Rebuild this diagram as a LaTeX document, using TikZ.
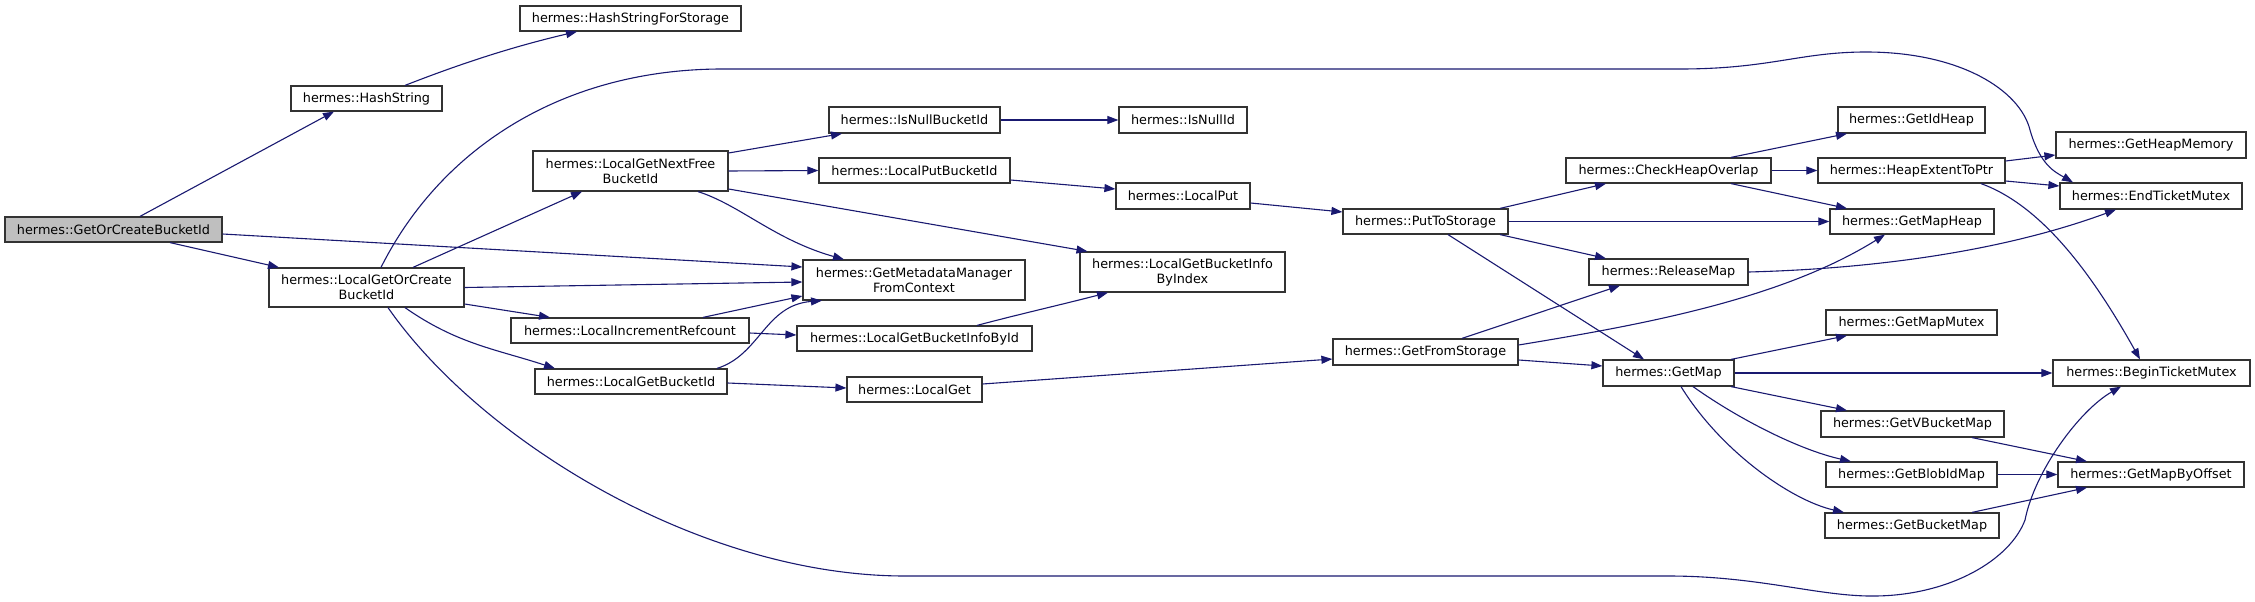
\documentclass[tikz,border=0pt]{standalone}
\usepackage{fontspec}
\setmainfont{DejaVu Sans}
\usetikzlibrary{arrows.meta}
\definecolor{edgeblue}{HTML}{191970}
\definecolor{rootgray}{HTML}{BFBFBF}
\begin{document}
\begin{tikzpicture}[x=1pt,y=-1pt,
  fn/.style={draw=black!80, line width=1.2pt, fill=white, inner sep=0pt, align=center,
    font=\fontsize{12.8}{15}\selectfont},
  rootfn/.style={fn, fill=rootgray},
  calls/.style={draw=edgeblue, line width=1.1pt, -{Triangle[length=11pt,width=8pt]}},
]
\useasboundingbox (0,0) rectangle (2255,602);
% nodes
\node[rootfn, minimum width=217pt, minimum height=25pt] (goc) at (113.5,229.5) {hermes::GetOrCreateBucketId};
\node[fn, minimum width=151pt, minimum height=25pt] (hs) at (366.5,98.5) {hermes::HashString};
\node[fn, minimum width=221pt, minimum height=25pt] (hsfs) at (630.5,18.5) {hermes::HashStringForStorage};
\node[fn, minimum width=195pt, minimum height=39pt] (lgoc) at (366.5,287.5) {hermes::LocalGetOrCreate\\BucketId};
\node[fn, minimum width=195pt, minimum height=40pt] (lgnf) at (630.5,171) {hermes::LocalGetNextFree\\BucketId};
\node[fn, minimum width=238pt, minimum height=25pt] (lir) at (630,330.5) {hermes::LocalIncrementRefcount};
\node[fn, minimum width=192pt, minimum height=25pt] (lgbi) at (631,381.5) {hermes::LocalGetBucketId};
\node[fn, minimum width=171pt, minimum height=26pt] (inbi) at (914.5,120) {hermes::IsNullBucketId};
\node[fn, minimum width=128pt, minimum height=26pt] (ini) at (1183,120) {hermes::IsNullId};
\node[fn, minimum width=191pt, minimum height=25pt] (lpbi) at (914.5,170.5) {hermes::LocalPutBucketId};
\node[fn, minimum width=134pt, minimum height=26pt] (lp) at (1183,196) {hermes::LocalPut};
\node[fn, minimum width=165pt, minimum height=25pt] (pts) at (1425.5,221.5) {hermes::PutToStorage};
\node[fn, minimum width=222pt, minimum height=40pt] (gmm) at (914,280) {hermes::GetMetadataManager\\FromContext};
\node[fn, minimum width=205pt, minimum height=40pt] (lgbii) at (1182.5,272) {hermes::LocalGetBucketInfo\\ByIndex};
\node[fn, minimum width=235pt, minimum height=25pt] (lgbid) at (914.5,338.5) {hermes::LocalGetBucketInfoById};
\node[fn, minimum width=135pt, minimum height=25pt] (lg) at (914.5,389.5) {hermes::LocalGet};
\node[fn, minimum width=185pt, minimum height=26pt] (gfs) at (1425.5,352) {hermes::GetFromStorage};
\node[fn, minimum width=205pt, minimum height=25pt] (cho) at (1668.5,170.5) {hermes::CheckHeapOverlap};
\node[fn, minimum width=147pt, minimum height=26pt] (gih) at (1911.5,120) {hermes::GetIdHeap};
\node[fn, minimum width=187pt, minimum height=25pt] (hetp) at (1911.5,170.5) {hermes::HeapExtentToPtr};
\node[fn, minimum width=190pt, minimum height=26pt] (ghm) at (2151,145) {hermes::GetHeapMemory};
\node[fn, minimum width=182pt, minimum height=26pt] (etm) at (2151,196) {hermes::EndTicketMutex};
\node[fn, minimum width=164pt, minimum height=25pt] (gmh) at (1912,221.5) {hermes::GetMapHeap};
\node[fn, minimum width=159pt, minimum height=26pt] (rm) at (1668.5,272) {hermes::ReleaseMap};
\node[fn, minimum width=171pt, minimum height=25pt] (gmmx) at (1911.5,322.5) {hermes::GetMapMutex};
\node[fn, minimum width=131pt, minimum height=26pt] (gm) at (1668.5,373) {hermes::GetMap};
\node[fn, minimum width=197pt, minimum height=26pt] (btm) at (2151.5,373) {hermes::BeginTicketMutex};
\node[fn, minimum width=183pt, minimum height=26pt] (gvbm) at (1912.5,424) {hermes::GetVBucketMap};
\node[fn, minimum width=171pt, minimum height=25pt] (gbim) at (1911.5,474.5) {hermes::GetBlobIdMap};
\node[fn, minimum width=186pt, minimum height=25pt] (gmbo) at (2151,474.5) {hermes::GetMapByOffset};
\node[fn, minimum width=174pt, minimum height=25pt] (gbm) at (1912,525.5) {hermes::GetBucketMap};
% edges
\draw[calls] ([xshift=26.5pt]goc.north) -- ([xshift=-32.5pt]hs.south);
\draw[calls] ([xshift=56.5pt]goc.south) -- ([xshift=-87.5pt]lgoc.north);
\draw[calls] ([yshift=-4.5pt]goc.east) -- ([yshift=13pt]gmm.west);
\draw[calls] ([xshift=38.5pt]hs.north) .. controls (470,60) and (520,45) .. ([xshift=-53.5pt]hsfs.south);
\draw[calls] ([xshift=46.5pt]lgoc.north) -- ([xshift=-48.5pt]lgnf.south);
\draw[calls] (lgoc.east) -- ([yshift=-2pt]gmm.west);
\draw[calls] ([yshift=-16.5pt]lgoc.east) -- ([xshift=-80pt]lir.north);
\draw[calls] ([xshift=38.5pt]lgoc.south) to[out=-35,in=162] ([xshift=-76pt]lgbi.north);
\draw[calls] ([xshift=14.5pt]lgoc.north) .. controls (440,150) and (560,70) .. (720,69) -- (1680,69)
   .. controls (1770,69) and (1800,52) .. (1866,52)
   .. controls (1960,52) and (2020,90) .. (2030,130)
   .. controls (2040,165) and (2055,172) .. ([xshift=-78pt]etm.north);
\draw[calls] ([xshift=21.5pt]lgoc.south) .. controls (480,440) and (700,576) .. (905,576) -- (1668,576)
   .. controls (1760,576) and (1820,597) .. (1876,596)
   .. controls (1950,595) and (2010,560) .. (2025,520)
   .. controls (2035,470) and (2080,410) .. ([xshift=-30.5pt]btm.south);
\draw[calls] ([yshift=18pt]lgnf.east) -- ([xshift=-72.5pt]inbi.south);
\draw[calls] (lgnf.east) -- (lpbi.west);
\draw[calls] ([xshift=67.5pt]lgnf.south) .. controls (740,205) and (775,240) .. ([xshift=-70pt]gmm.north);
\draw[calls] ([yshift=-18pt]lgnf.east) -- ([xshift=-95pt]lgbii.north);
\draw[calls] ([xshift=73pt]lir.north) -- ([yshift=-16pt]gmm.west);
\draw[calls] ([yshift=-2.5pt]lir.east) -- ([yshift=3.5pt]lgbid.west);
\draw[calls] ([xshift=86pt]lgbi.north) .. controls (760,355) and (765,305) .. ([xshift=-92pt]gmm.south);
\draw[calls] ([yshift=-1.5pt]lgbi.east) -- ([yshift=1.5pt]lg.west);
\draw[calls] (inbi.east) -- (ini.west);
\draw[calls] ([yshift=-9.5pt]lpbi.east) -- ([yshift=7pt]lp.west);
\draw[calls] ([yshift=-7pt]lp.east) -- ([yshift=9.5pt]pts.west);
\draw[calls] ([xshift=62.5pt]lgbid.north) .. controls (1020,314) and (1060,305) .. ([xshift=-74.5pt]lgbii.south);
\draw[calls] ([yshift=5.5pt]lg.east) -- ([yshift=-7pt]gfs.west);
\draw[calls] ([xshift=74.5pt]pts.north) -- ([xshift=-62.5pt]cho.south);
\draw[calls] (pts.east) -- (gmh.west);
\draw[calls] ([xshift=74.5pt]pts.south) -- ([xshift=-62.5pt]rm.north);
\draw[calls] ([xshift=22.5pt]pts.south) -- ([xshift=-24.5pt]gm.north);
\draw[calls] ([xshift=36.5pt]gfs.north) -- ([xshift=-48.5pt]rm.south);
\draw[calls] ([yshift=7pt]gfs.east) .. controls (1640,325) and (1780,300) .. ([xshift=-27pt]gmh.south);
\draw[calls] ([yshift=-8pt]gfs.east) -- ([yshift=7pt]gm.west);
\draw[calls] ([xshift=62.5pt]cho.north) -- ([xshift=-64.5pt]gih.south);
\draw[calls] (cho.east) -- (hetp.west);
\draw[calls] ([xshift=62.5pt]cho.south) -- ([xshift=-65pt]gmh.north);
\draw[calls] ([yshift=9.5pt]hetp.east) -- ([yshift=-10pt]ghm.west);
\draw[calls] ([yshift=-10.5pt]hetp.east) -- ([yshift=10pt]etm.west);
\draw[calls] ([xshift=69.5pt]hetp.south) .. controls (2040,205) and (2090,270) .. ([xshift=-11.5pt]btm.north);
\draw[calls] (rm.east) .. controls (1900,268) and (2020,245) .. ([xshift=-35pt]etm.south);
\draw[calls] ([xshift=62.5pt]gm.north) -- ([xshift=-64.5pt]gmmx.south);
\draw[calls] (gm.east) -- (btm.west);
\draw[calls] ([xshift=62.5pt]gm.south) -- ([xshift=-65.5pt]gvbm.north);
\draw[calls] ([xshift=24.5pt]gm.south) .. controls (1740,420) and (1800,450) .. ([xshift=-60.5pt]gbim.north);
\draw[calls] ([xshift=12.5pt]gm.south) .. controls (1720,450) and (1790,500) .. ([xshift=-68pt]gbm.north);
\draw[calls] ([xshift=59.5pt]gvbm.south) -- ([xshift=-64pt]gmbo.north);
\draw[calls] (gbim.east) -- (gmbo.west);
\draw[calls] ([xshift=60pt]gbm.north) -- ([xshift=-64pt]gmbo.south);
\end{tikzpicture}
\end{document}
